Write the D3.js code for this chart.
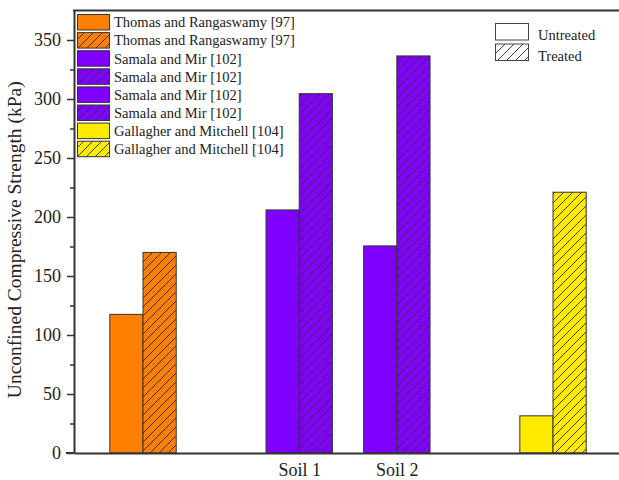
<!DOCTYPE html>
<html>
<head>
<meta charset="utf-8">
<script src="https://cdn.jsdelivr.net/npm/d3@7"></script>
<style>
  html, body { margin: 0; padding: 0; background: #fff; }
  svg { display: block; }
</style>
</head>
<body>
<svg id="chart" width="619" height="480"></svg>
<script>
// ---- data ----
const sources = ["Thomas and Rangaswamy [97]", "Samala and Mir [102]", "Samala and Mir [102]", "Gallagher and Mitchell [104]"];
const groupPos = [1, 2.6, 3.6, 5.2];
const xTickLabels = ["", "Soil 1", "Soil 2", ""];
const untreated = [117.5, 206, 175.5, 31.5];
const treated = [170, 304.5, 336.5, 221];
const colors = ["#FF8000", "#8000FF", "#8000FF", "#FFEB00"];
const yTicks = [0, 50, 100, 150, 200, 250, 300, 350];
const yMinorTicks = [25, 75, 125, 175, 225, 275, 325];
const conditionLabels = ["Untreated", "Treated"];

// ---- layout ----
const svg = d3.select("#chart");
const FONT = "'Liberation Serif', 'Times New Roman', serif";
const axisColor = "#333";
const barW = 0.34;

const x = d3.scaleLinear().domain([0.293, 6.0]).range([74, 74 + (6.0 - 0.293) * 97.62]);
const y = d3.scaleLinear().domain([0, 375]).range([453, 10.5]);

// patterns
const defs = svg.append("defs");
const patColors = Array.from(new Set(colors.concat(["#ffffff"])));
patColors.forEach(c => {
  const p = defs.append("pattern")
    .attr("id", "hatch" + c.replace("#", ""))
    .attr("patternUnits", "userSpaceOnUse")
    .attr("width", 9).attr("height", 9);
  p.append("rect").attr("width", 9).attr("height", 9).attr("fill", c);
  p.append("path")
    .attr("d", "M-1,10 L10,-1 M-2,2 L2,-2 M7,11 L11,7")
    .attr("stroke", "#2a2a2a").attr("stroke-width", 0.9).attr("fill", "none");
});
const hatch = c => "url(#hatch" + c.replace("#", "") + ")";

// bars
const data = sources.map((s, i) => ({ s, pos: groupPos[i], u: untreated[i], t: treated[i], c: colors[i] }));
const g = svg.append("g");
g.selectAll("rect.u").data(data).enter().append("rect")
  .attr("class", "u")
  .attr("x", d => x(d.pos - barW))
  .attr("width", d => x(d.pos) - x(d.pos - barW))
  .attr("y", d => y(d.u))
  .attr("height", d => y(0) - y(d.u))
  .attr("fill", d => d.c)
  .attr("stroke", "#333").attr("stroke-width", 1);
g.selectAll("rect.t").data(data).enter().append("rect")
  .attr("class", "t")
  .attr("x", d => x(d.pos))
  .attr("width", d => x(d.pos + barW) - x(d.pos))
  .attr("y", d => y(d.t))
  .attr("height", d => y(0) - y(d.t))
  .attr("fill", d => hatch(d.c))
  .attr("stroke", "#333").attr("stroke-width", 1);

// y axis
const yAxis = d3.axisLeft(y).tickValues(yTicks).tickSize(7).tickSizeOuter(0).tickPadding(6);
const ya = svg.append("g").attr("transform", `translate(${x(0.293)},0)`).call(yAxis);
ya.select(".domain").attr("stroke", axisColor).attr("stroke-width", 2);
ya.selectAll(".tick line").attr("stroke", axisColor).attr("stroke-width", 1.5);
ya.selectAll(".tick text").attr("font-family", FONT).attr("font-size", 18).attr("fill", "#222");
const yMinor = d3.axisLeft(y).tickValues(yMinorTicks).tickSize(4).tickSizeOuter(0).tickFormat("");
const ym = svg.append("g").attr("transform", `translate(${x(0.293)},0)`).call(yMinor);
ym.select(".domain").remove();
ym.selectAll(".tick line").attr("stroke", axisColor).attr("stroke-width", 1.5);

// x axis
const xAxis = d3.axisBottom(x).tickValues(groupPos).tickFormat((d, i) => xTickLabels[i]).tickSize(0).tickSizeOuter(0).tickPadding(10);
const xa = svg.append("g").attr("transform", `translate(0,${y(0)})`).call(xAxis);
xa.select(".domain").attr("stroke", axisColor).attr("stroke-width", 2);
xa.selectAll(".tick text").attr("font-family", FONT).attr("font-size", 18).attr("fill", "#222");
svg.append("line").attr("x1", 66).attr("x2", x(0.293)).attr("y1", y(0)).attr("y2", y(0))
  .attr("stroke", axisColor).attr("stroke-width", 2);

// top frame line
svg.append("line")
  .attr("x1", x(0.293) - 1).attr("x2", x(6.0))
  .attr("y1", y(375)).attr("y2", y(375))
  .attr("stroke", axisColor).attr("stroke-width", 2);

// y title
svg.append("text")
  .attr("transform", `translate(21,${(y(0) + y(375)) / 2 + 8}) rotate(-90)`)
  .attr("text-anchor", "middle")
  .attr("font-family", FONT).attr("font-size", 19.5).attr("fill", "#222")
  .text("Unconfined Compressive Strength (kPa)");

// left legend: sources x condition
const legendItems = [];
sources.forEach((s, i) => {
  legendItems.push({ label: s, fill: colors[i] });
  legendItems.push({ label: s, fill: hatch(colors[i]) });
});
const lg = svg.append("g");
legendItems.forEach((d, i) => {
  const cy = 22 + i * 18.1;
  lg.append("rect").attr("x", 77.5).attr("y", cy - 7.5).attr("width", 32).attr("height", 15.5)
    .attr("fill", d.fill).attr("stroke", "#333").attr("stroke-width", 1);
  lg.append("text").attr("x", 114).attr("y", cy + 5.3)
    .attr("font-family", FONT).attr("font-size", 14.5).attr("fill", "#222").text(d.label);
});

// right legend
const rg = svg.append("g");
conditionLabels.forEach((lab, i) => {
  const top = 23.5 + i * 20.5;
  rg.append("rect").attr("x", 495.5).attr("y", top).attr("width", 33).attr("height", 16.5)
    .attr("fill", i === 0 ? "#fff" : hatch("#ffffff")).attr("stroke", "#444").attr("stroke-width", 1);
  rg.append("text").attr("x", 538).attr("y", top + 16.5)
    .attr("font-family", FONT).attr("font-size", 14.5).attr("fill", "#222").text(lab);
});
</script>
</body>
</html>
